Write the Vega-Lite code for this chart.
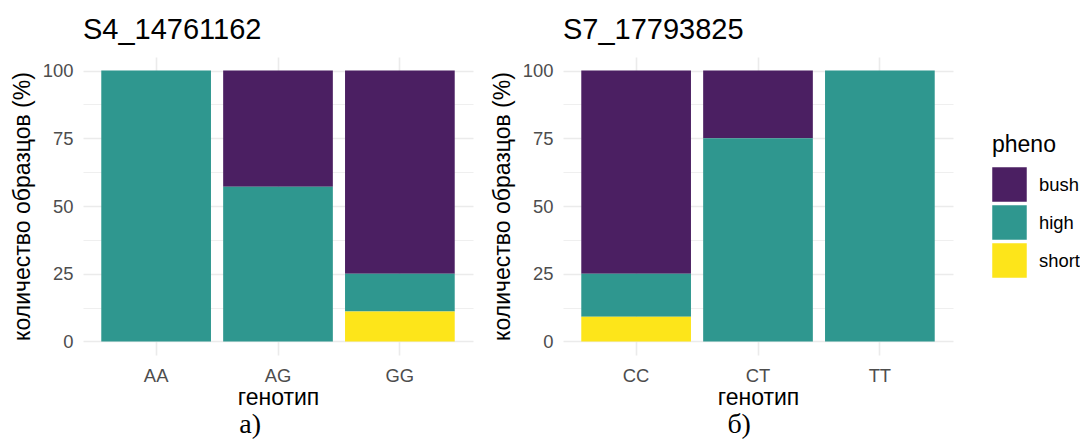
{
  "$schema": "https://vega.github.io/schema/vega-lite/v6.json",
  "padding": {"left": 11, "top": 16, "right": 0, "bottom": 0},
  "background": "white",
  "config": {
    "font": "Liberation Sans",
    "view": {"stroke": null},
    "concat": {"spacing": 18},
    "axis": {
      "domain": false,
      "ticks": false,
      "tickSize": 0,
      "labelFont": "Liberation Sans",
      "labelFontSize": 18.4,
      "labelColor": "#4D4D4D",
      "titleFont": "Liberation Sans",
      "titleFontSize": 23,
      "titleFontWeight": "normal",
      "titleColor": "#000000",
      "gridColor": "#EBEBEB"
    },
    "title": {
      "font": "Liberation Sans",
      "fontSize": 29,
      "fontWeight": "normal",
      "anchor": "start",
      "color": "#000000"
    },
    "legend": {
      "orient": "none",
      "legendX": 909,
      "legendY": 77,
      "padding": 0,
      "titleFont": "Liberation Sans",
      "titleFontSize": 23,
      "titleFontWeight": "normal",
      "titleColor": "#000000",
      "titlePadding": 10,
      "labelFont": "Liberation Sans",
      "labelFontSize": 18.4,
      "labelColor": "#000000",
      "labelOffset": 12,
      "symbolType": "square",
      "symbolSize": 1190,
      "symbolStrokeWidth": 0,
      "symbolOpacity": 1,
      "rowPadding": 3
    }
  },
  "data": {
    "values": [
      {"snp": "S4_14761162", "genotype": "AA", "pheno": "high", "pct": 100},
      {"snp": "S4_14761162", "genotype": "AG", "pheno": "bush", "pct": 42.9},
      {"snp": "S4_14761162", "genotype": "AG", "pheno": "high", "pct": 57.1},
      {"snp": "S4_14761162", "genotype": "GG", "pheno": "bush", "pct": 75},
      {"snp": "S4_14761162", "genotype": "GG", "pheno": "high", "pct": 13.9},
      {"snp": "S4_14761162", "genotype": "GG", "pheno": "short", "pct": 11.1},
      {"snp": "S7_17793825", "genotype": "CC", "pheno": "bush", "pct": 75},
      {"snp": "S7_17793825", "genotype": "CC", "pheno": "high", "pct": 15.9},
      {"snp": "S7_17793825", "genotype": "CC", "pheno": "short", "pct": 9.1},
      {"snp": "S7_17793825", "genotype": "CT", "pheno": "bush", "pct": 25},
      {"snp": "S7_17793825", "genotype": "CT", "pheno": "high", "pct": 75},
      {"snp": "S7_17793825", "genotype": "TT", "pheno": "high", "pct": 100}
    ]
  },
  "hconcat": [
    {
      "title": {"text": "а)", "orient": "bottom", "anchor": "middle", "frame": "bounds", "font": "Liberation Serif", "fontSize": 28, "fontWeight": "normal", "offset": 2, "dx": 8},
      "vconcat": [
        {
          "title": {"text": "S4_14761162", "baseline": "alphabetic", "offset": -11, "frame": "group"},
          "width": 390,
          "height": 298,
          "transform": [{"filter": "datum.snp === 'S4_14761162'"}],
          "mark": {"type": "bar"},
          "encoding": {
            "x": {
              "field": "genotype", "type": "nominal", "title": "генотип",
              "scale": {"paddingInner": 0.1, "paddingOuter": 0.15},
              "axis": {"labelAngle": 0, "bandPosition": 0.5, "grid": true, "gridWidth": 1.6, "labelPadding": 11, "titlePadding": 2}
            },
            "y": {
              "field": "pct", "type": "quantitative", "stack": "zero", "title": "количество образцов (%)",
              "scale": {"domain": [-5, 105], "nice": false, "zero": false},
              "axis": {
                "values": [0, 12.5, 25, 37.5, 50, 62.5, 75, 87.5, 100],
                "labelExpr": "datum.value % 25 === 0 ? datum.label : ''",
                "labelOverlap": false,
                "gridWidth": {"condition": {"test": "datum.value % 25 === 0", "value": 1.6}, "value": 0.8},
                "labelPadding": 10,
                "titlePadding": 8
              }
            },
            "color": {
              "field": "pheno", "type": "nominal", "title": "pheno",
              "scale": {"domain": ["bush", "high", "short"], "range": ["#4B1F62", "#2F978F", "#FDE51A"]}
            },
            "order": {"field": "pheno", "sort": "descending"}
          }
        }
      ]
    },
    {
      "title": {"text": "б)", "orient": "bottom", "anchor": "middle", "frame": "bounds", "font": "Liberation Serif", "fontSize": 28, "fontWeight": "normal", "offset": 2, "dx": 17},
      "vconcat": [
        {
          "title": {"text": "S7_17793825", "baseline": "alphabetic", "offset": -11, "frame": "group"},
          "width": 390,
          "height": 298,
          "transform": [{"filter": "datum.snp === 'S7_17793825'"}],
          "mark": {"type": "bar"},
          "encoding": {
            "x": {
              "field": "genotype", "type": "nominal", "title": "генотип",
              "scale": {"paddingInner": 0.1, "paddingOuter": 0.15},
              "axis": {"labelAngle": 0, "bandPosition": 0.5, "grid": true, "gridWidth": 1.6, "labelPadding": 11, "titlePadding": 2}
            },
            "y": {
              "field": "pct", "type": "quantitative", "stack": "zero", "title": "количество образцов (%)",
              "scale": {"domain": [-5, 105], "nice": false, "zero": false},
              "axis": {
                "values": [0, 12.5, 25, 37.5, 50, 62.5, 75, 87.5, 100],
                "labelExpr": "datum.value % 25 === 0 ? datum.label : ''",
                "labelOverlap": false,
                "gridWidth": {"condition": {"test": "datum.value % 25 === 0", "value": 1.6}, "value": 0.8},
                "labelPadding": 10,
                "titlePadding": 8
              }
            },
            "color": {
              "field": "pheno", "type": "nominal", "title": "pheno",
              "scale": {"domain": ["bush", "high", "short"], "range": ["#4B1F62", "#2F978F", "#FDE51A"]}
            },
            "order": {"field": "pheno", "sort": "descending"}
          }
        }
      ]
    }
  ]
}
